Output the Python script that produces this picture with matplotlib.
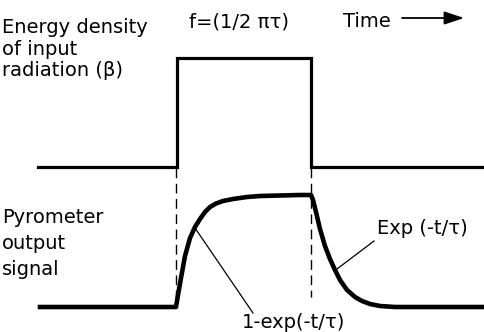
import matplotlib
matplotlib.use("Agg")
import matplotlib.pyplot as plt

# Input radiation pulse (pixel-space schematic)
pulse_x = [38, 177, 177, 311, 311, 484]
pulse_y = [167, 167, 58, 58, 167, 167]

# Pyrometer output signal
signal_x = [40, 176, 178, 181, 185, 190, 195, 200, 205, 210, 216, 223, 233, 247, 260, 280, 300, 311,
            313, 316, 320, 325, 330, 335, 340, 347, 355, 362, 370, 380, 395, 410, 484]
signal_y = [307, 307, 295, 278, 256, 238, 227, 219, 212, 207, 203.5, 201, 199, 197, 196, 195.5, 195, 195,
            200, 212, 229, 246, 259, 270, 280, 290, 297, 301, 304, 306, 307, 307, 307]

# Dashed guide lines
guide_x = [176, 311]
guide_top = [168, 168]
guide_bottom = [300, 297]

# Leader lines for annotations
leader_rise_x = [195, 253]
leader_rise_y = [228, 313]
leader_fall_x = [337, 374]
leader_fall_y = [269, 241]

left_labels_top = ["Energy density", "of input", "radiation (β)"]
left_labels_top_y = [33, 55, 76]
left_labels_bot = ["Pyrometer", "output", "signal"]
left_labels_bot_y = [223, 249, 275]

fig = plt.figure(figsize=(4.84, 3.32), dpi=100)
ax = fig.add_axes([0, 0, 1, 1])
ax.set_xlim(0, 484)
ax.set_ylim(332, 0)
ax.axis("off")

ax.plot(pulse_x, pulse_y, color="black", lw=2.3, solid_joinstyle="miter")
ax.plot(signal_x, signal_y, color="black", lw=3.3, solid_joinstyle="round")
for gx, gt, gb in zip(guide_x, guide_top, guide_bottom):
    ax.plot([gx, gx], [gt, gb], color="black", lw=1.0, dashes=(7, 4))
ax.plot(leader_rise_x, leader_rise_y, color="black", lw=0.9)
ax.plot(leader_fall_x, leader_fall_y, color="black", lw=0.9)

fs = 14
for t, y in zip(left_labels_top, left_labels_top_y):
    ax.text(2, y, t, fontsize=fs, va="baseline", ha="left")
for t, y in zip(left_labels_bot, left_labels_bot_y):
    ax.text(2, y, t, fontsize=fs, va="baseline", ha="left")

ax.text(239, 27, "f=(1/2 πτ)", fontsize=fs, va="baseline", ha="center")
ax.text(343, 27, "Time", fontsize=fs, va="baseline", ha="left")
ax.annotate("", xy=(464, 18), xytext=(402, 18),
            arrowprops=dict(arrowstyle="-|>,head_length=1.2,head_width=0.4",
                            color="black", lw=1.3, shrinkA=0, shrinkB=0))

ax.text(377, 229, "Exp (-t/τ)", fontsize=fs, va="center", ha="left")
ax.text(294, 323, "1-exp(-t/τ)", fontsize=fs, va="center", ha="center")

fig.savefig("out.png", dpi=100)
